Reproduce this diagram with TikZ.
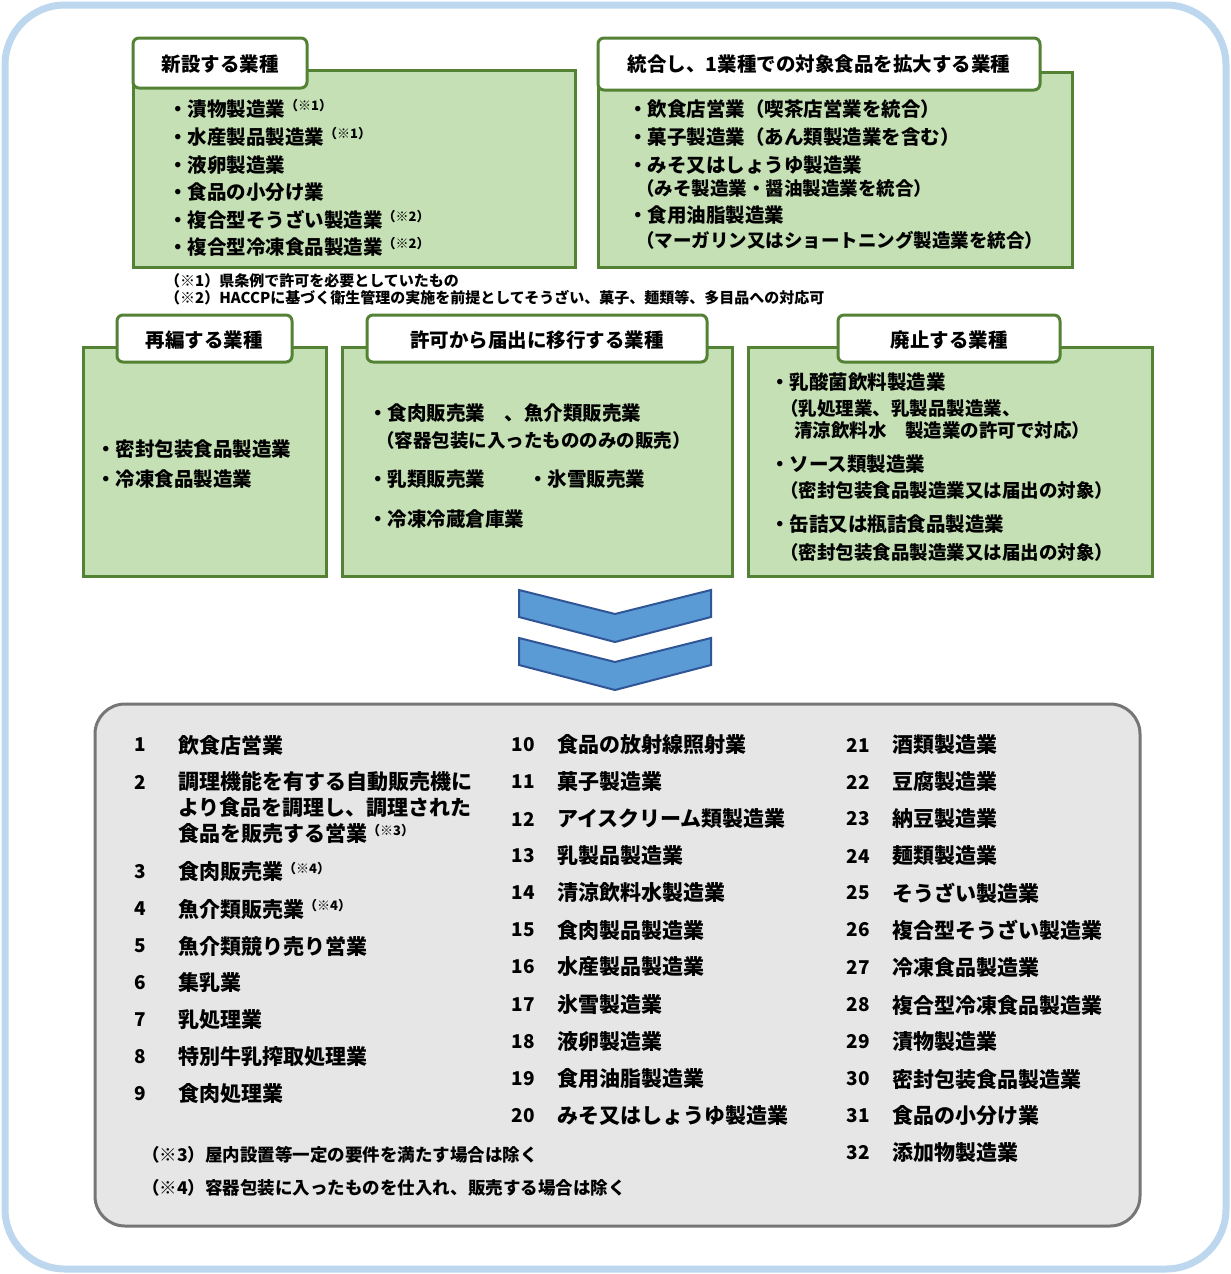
\documentclass[tikz,border=0pt]{standalone}
\usepackage{fontspec}
\setmainfont{Noto Sans CJK JP}
\newcommand{\smk}[1]{\raisebox{0.55ex}{\fontsize{13}{13}\selectfont（#1）}}
\definecolor{gfill}{RGB}{197,224,180}
\definecolor{gline}{RGB}{84,130,53}
\begin{document}
\begin{tikzpicture}[x=1pt,y=-1pt,
 gbox/.style={draw=gline, fill=gfill, line width=3pt},
 tabbox/.style={draw=gline, fill=white, line width=3pt, rounded corners=6pt},
 tabtxt/.style={font=\fontsize{19.5}{19.5}\selectfont\bfseries, anchor=center},
 t/.style={font=\fontsize{19.5}{19.5}\selectfont\bfseries, anchor=west, inner sep=0pt},
 s/.style={font=\fontsize{18.5}{18.5}\selectfont\bfseries, anchor=west, inner sep=0pt},
 n/.style={font=\fontsize{15}{15}\selectfont\bfseries, anchor=west, inner sep=0pt},
 chev/.style={fill={rgb,255:red,91;green,155;blue,213}, draw={rgb,255:red,47;green,85;blue,151}, line width=2pt},
 num/.style={font=\fontsize{19}{19}\selectfont\bfseries, anchor=center, inner sep=0pt},
 lt/.style={font=\fontsize{21}{21}\selectfont\bfseries, anchor=west, inner sep=0pt}]
\useasboundingbox (0,0) rectangle (1231,1274);
\draw[draw={rgb,255:red,189;green,215;blue,238}, line width=7pt, fill=white, rounded corners=60pt] (5,5) rectangle (1226,1269);
% box1
\draw[gbox] (133,70) rectangle (575,267);
\draw[tabbox] (133,38) rectangle (307,88); \node[tabtxt] (tab1) at (220,64) {新設する業種};
\node[t] (a1) at (168,109) {・漬物製造業\smk{※1}};
\node[t] (a2) at (168,137) {・水産製品製造業\smk{※1}};
\node[t] (a3) at (168,165) {・液卵製造業};
\node[t] (a4) at (168,192) {・食品の小分け業};
\node[t] (a5) at (168,220) {・複合型そうざい製造業\smk{※2}};
\node[t] (a6) at (168,247) {・複合型冷凍食品製造業\smk{※2}};
% box2
\draw[gbox] (598,72) rectangle (1072,267);
\draw[tabbox] (598,38) rectangle (1040,90); \node[tabtxt] (tab2) at (819,64) {統合し、1業種での対象食品を拡大する業種};
\node[t] (b1) at (628,109) {・飲食店営業（喫茶店営業を統合）};
\node[t] (b2) at (628,137) {・菓子製造業（あん類製造業を含む）};
\node[t] (b3) at (628,165) {・みそ又はしょうゆ製造業};
\node[s] (b4) at (636,188) {（みそ製造業・醤油製造業を統合）};
\node[t] (b5) at (628,215) {・食用油脂製造業};
\node[s] (b6) at (636,240) {（マーガリン又はショートニング製造業を統合）};
\node[n] (n1) at (165,281) {（※1）県条例で許可を必要としていたもの};
\node[n] (n2) at (165,298) {（※2）HACCPに基づく衛生管理の実施を前提としてそうざい、菓子、麺類等、多目品への対応可};
% box3
\draw[gbox] (83,347) rectangle (326,576);
\draw[tabbox] (117,315) rectangle (292,362); \node[tabtxt] (tab3) at (204,340) {再編する業種};
\node[t] (c1) at (96,449) {・密封包装食品製造業};
\node[t] (c2) at (96,479) {・冷凍食品製造業};
% box4
\draw[gbox] (342,347) rectangle (732,576);
\draw[tabbox] (367,315) rectangle (707,362); \node[tabtxt] (tab4) at (537,340) {許可から届出に移行する業種};
\node[t] (d1) at (368,413) {・食肉販売業\quad 、魚介類販売業};
\node[s] (d2) at (376,440) {（容器包装に入ったもののみの販売）};
\node[t] (d3) at (368,479) {・乳類販売業};
\node[t] (d4) at (528,479) {・氷雪販売業};
\node[t] (d5) at (368,519) {・冷凍冷蔵倉庫業};
% box5
\draw[gbox] (748,347) rectangle (1152,576);
\draw[tabbox] (838,315) rectangle (1060,362); \node[tabtxt] (tab5) at (949,340) {廃止する業種};
\node[t] (e1) at (770,382) {・乳酸菌飲料製造業};
\node[s] (e2) at (780,408) {（乳処理業、乳製品製造業、};
\node[s] (e3) at (794,430) {清涼飲料水\quad 製造業の許可で対応）};
\node[t] (e4) at (770,464) {・ソース類製造業};
\node[s] (e5) at (780,490) {（密封包装食品製造業又は届出の対象）};
\node[t] (e6) at (770,524) {・缶詰又は瓶詰食品製造業};
\node[s] (e7) at (780,552) {（密封包装食品製造業又は届出の対象）};
% chevrons
\draw[chev] (519,590) -- (615,614) -- (711,590) -- (711,617) -- (615,642) -- (519,617) -- cycle;
\draw[chev] (519,638) -- (615,662) -- (711,638) -- (711,665) -- (615,690) -- (519,665) -- cycle;
% list box
\draw[fill={rgb,255:red,231;green,230;blue,230}, draw={rgb,255:red,118;green,118;blue,118}, line width=3pt, rounded corners=30pt] (95,704) rectangle (1140,1226);
\foreach \i/\y/\txt in {1/745/飲食店営業, 3/872/{食肉販売業\smk{※4}}, 4/909/{魚介類販売業\smk{※4}}, 5/946/魚介類競り売り営業, 6/983/集乳業, 7/1020/乳処理業, 8/1057/特別牛乳搾取処理業, 9/1094/食肉処理業}
 {\node[num] (m\i) at (140,\y) {\i}; \node[lt] (l\i) at (178,\y) {\txt};}
\node[num] (m2) at (140,782) {2};
\node[lt] (l2a) at (178,782) {調理機能を有する自動販売機に};
\node[lt] (l2b) at (178,808) {より食品を調理し、調理された};
\node[lt] (l2c) at (178,834) {食品を販売する営業\smk{※3}};
\foreach \i/\y/\txt in {10/745/食品の放射線照射業, 11/782/菓子製造業, 12/819/アイスクリーム類製造業, 13/856/乳製品製造業, 14/893/清涼飲料水製造業, 15/930/食肉製品製造業, 16/967/水産製品製造業, 17/1005/氷雪製造業, 18/1042/液卵製造業, 19/1079/食用油脂製造業, 20/1116/みそ又はしょうゆ製造業}
 {\node[num] (m\i) at (523,\y) {\i}; \node[lt] (l\i) at (557,\y) {\txt};}
\foreach \i/\y/\txt in {21/745/酒類製造業, 22/782/豆腐製造業, 23/819/納豆製造業, 24/856/麺類製造業, 25/893/そうざい製造業, 26/930/複合型そうざい製造業, 27/967/冷凍食品製造業, 28/1005/複合型冷凍食品製造業, 29/1042/漬物製造業, 30/1079/密封包装食品製造業, 31/1116/食品の小分け業, 32/1153/添加物製造業}
 {\node[num] (m\i) at (858,\y) {\i}; \node[lt] (l\i) at (892,\y) {\txt};}
\node[s, font=\fontsize{17.5}{17.5}\selectfont\bfseries] (n3) at (142,1155) {（※3）屋内設置等一定の要件を満たす場合は除く};
\node[s, font=\fontsize{17.5}{17.5}\selectfont\bfseries] (n4) at (142,1188) {（※4）容器包装に入ったものを仕入れ、販売する場合は除く};
\end{tikzpicture}
\end{document}
